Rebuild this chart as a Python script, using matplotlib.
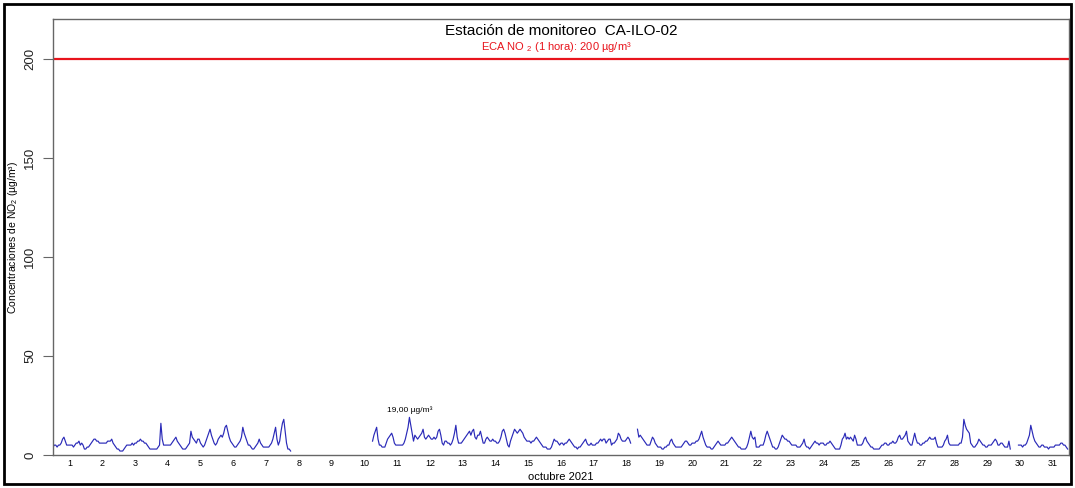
import numpy as np
import matplotlib
matplotlib.use("Agg")
import matplotlib.pyplot as plt
from matplotlib.patches import Rectangle

plt.rcParams["font.family"] = ["Liberation Sans", "DejaVu Sans"]
plt.rcParams["mathtext.fontset"] = "custom"
plt.rcParams["mathtext.rm"] = "Liberation Sans"
plt.rcParams["mathtext.it"] = "Liberation Sans:italic"

nan = np.nan

# hourly NO2 (ug/m3), 24 values per day, October 2021
day01 = [4, 5, 5, 4, 5, 5, 6, 8, 9, 7, 5, 5, 5, 5, 5, 4, 5, 6, 6, 7, 5, 6, 5, 3]
day02 = [3, 4, 4, 5, 6, 7, 8, 8, 7, 7, 6, 6, 6, 6, 6, 6, 7, 7, 7, 8, 6, 5, 4, 3]
day03 = [3, 2, 2, 2, 3, 4, 5, 5, 5, 5, 6, 5, 6, 6, 7, 7, 8, 7, 7, 6, 6, 5, 4, 3]
day04 = [3, 3, 3, 3, 3, 4, 5, 16, 8, 5, 5, 5, 5, 5, 5, 6, 7, 8, 9, 7, 6, 5, 4, 3]
day05 = [3, 3, 4, 5, 6, 12, 9, 8, 7, 6, 8, 8, 6, 5, 4, 5, 7, 9, 11, 13, 10, 8, 6, 5]
day06 = [6, 8, 9, 10, 9, 11, 14, 15, 12, 9, 7, 6, 5, 4, 4, 5, 6, 7, 9, 14, 11, 9, 7, 5]
day07 = [5, 4, 3, 3, 4, 5, 6, 8, 6, 5, 4, 4, 4, 4, 4, 5, 6, 8, 11, 14, 8, 5, 7, 12]
day08 = [16, 18, 12, 6, 3, 3, 2] + [nan] * 17
day09 = [nan] * 24
day10 = [nan] * 18 + [7, 10, 12, 14, 8, 5]
day11 = [5, 4, 4, 4, 6, 8, 9, 10, 11, 9, 6, 5, 5, 5, 5, 5, 5, 6, 8, 11, 14, 19, 15, 11]
day12 = [7, 10, 9, 8, 9, 10, 11, 13, 9, 8, 9, 10, 9, 8, 8, 9, 8, 9, 12, 13, 10, 6, 5, 7]
day13 = [7, 6, 6, 5, 6, 8, 11, 15, 9, 6, 6, 6, 7, 8, 9, 10, 11, 12, 10, 12, 13, 9, 8, 10]
day14 = [10, 12, 9, 6, 6, 8, 9, 8, 7, 7, 8, 7, 7, 6, 6, 7, 9, 12, 13, 11, 8, 5, 4, 7]
day15 = [9, 11, 13, 12, 11, 12, 13, 12, 11, 9, 8, 7, 7, 7, 6, 7, 7, 8, 9, 8, 7, 6, 5, 4]
day16 = [4, 4, 3, 3, 3, 4, 6, 8, 7, 7, 6, 5, 6, 6, 5, 6, 6, 7, 8, 7, 6, 5, 4, 4]
day17 = [3, 4, 4, 5, 6, 7, 8, 6, 5, 5, 6, 5, 5, 5, 6, 6, 7, 8, 7, 8, 8, 6, 7, 8]
day18 = [8, 5, 6, 6, 7, 8, 11, 10, 8, 7, 7, 7, 8, 9, 8, 6, nan, nan, nan, nan, 13, 9, 10, 9]
day19 = [8, 7, 6, 5, 5, 5, 7, 9, 8, 6, 5, 4, 4, 4, 3, 3, 4, 4, 5, 5, 7, 8, 6, 5]
day20 = [4, 4, 4, 4, 4, 5, 6, 7, 7, 6, 5, 5, 6, 6, 6, 7, 7, 8, 10, 12, 9, 7, 5, 4]
day21 = [4, 4, 3, 3, 4, 5, 6, 7, 6, 5, 5, 5, 5, 6, 6, 7, 8, 9, 8, 7, 6, 5, 4, 4]
day22 = [3, 3, 3, 3, 4, 6, 9, 12, 9, 8, 9, 4, 4, 4, 5, 5, 5, 7, 10, 12, 10, 8, 6, 4]
day23 = [4, 3, 3, 4, 6, 8, 10, 9, 8, 8, 7, 7, 6, 5, 5, 5, 5, 4, 4, 4, 5, 6, 8, 5]
day24 = [4, 4, 3, 4, 5, 6, 7, 6, 6, 5, 6, 6, 6, 5, 5, 6, 6, 7, 6, 5, 4, 3, 3, 3]
day25 = [3, 5, 8, 9, 11, 8, 9, 8, 9, 8, 7, 10, 8, 5, 5, 5, 5, 6, 8, 9, 7, 6, 5, 4]
day26 = [4, 3, 3, 3, 3, 3, 4, 5, 5, 6, 6, 5, 5, 6, 6, 7, 6, 6, 7, 9, 10, 8, 8, 9]
day27 = [10, 12, 7, 6, 5, 5, 8, 11, 8, 6, 6, 5, 5, 6, 6, 7, 7, 8, 9, 8, 8, 8, 9, 6]
day28 = [4, 4, 4, 4, 5, 7, 8, 10, 6, 5, 5, 5, 5, 5, 5, 5, 6, 6, 9, 18, 15, 13, 12, 11]
day29 = [6, 5, 4, 4, 5, 6, 8, 7, 6, 5, 5, 4, 4, 5, 5, 5, 6, 7, 8, 7, 5, 5, 6, 6]
day30 = [5, 4, 4, 4, 7, 3, nan, nan, nan, nan, nan, 5, 5, 5, 4, 5, 5, 6, 8, 10, 15, 12, 9, 7]
day31 = [6, 5, 4, 4, 5, 5, 4, 4, 4, 3, 4, 4, 4, 4, 5, 5, 5, 5, 6, 6, 5, 5, 4, 3]

days = [day01, day02, day03, day04, day05, day06, day07, day08, day09, day10,
        day11, day12, day13, day14, day15, day16, day17, day18, day19, day20,
        day21, day22, day23, day24, day25, day26, day27, day28, day29, day30,
        day31]
no2 = np.array(sum(days, []), dtype=float)
hours = np.arange(len(no2)) / 24.0

day_labels = [str(d) for d in range(1, 32)]
eca_limit = 200
max_label = "19,00 µg/m³"

fig = plt.figure(figsize=(10.75, 4.88), dpi=100)
ax = fig.add_axes([53 / 1075, 1 - 455 / 488, (1069 - 53) / 1075, (455 - 19) / 488])

ax.plot(hours, no2, color="#2a2ab8", lw=0.85)
ax.axhline(eca_limit, color="#e8141c", lw=1.6)

imax = np.nanargmax(no2)
ax.text(hours[imax], no2[imax] + 1.5, max_label, fontsize=6, ha="center", va="bottom")
ax.text(15.35, 205.8, "ECA NO $_2$ (1 hora): 200 µg/m³", color="#e8141c",
        fontsize=8, ha="center", va="center")
ax.text(15.5, 214, "Estación de monitoreo  CA-ILO-02", fontsize=11, ha="center",
        va="center")

ax.set_xlim(0, 31)
ax.set_ylim(0, 220)
ax.set_xticks(np.arange(31) + 0.5)
ax.set_xticklabels(day_labels, fontsize=6.5)
ax.tick_params(axis="x", length=0, pad=3)
ax.set_yticks([0, 50, 100, 150, 200])
ax.set_yticklabels(["0", "50", "100", "150", "200"], rotation=90, va="center",
                   fontsize=9.5, color="#222222")
ax.tick_params(axis="y", length=7, color="#666666", pad=5)
for s in ax.spines.values():
    s.set_color("#666666")
    s.set_linewidth(1.0)

ax.set_xlabel("octubre 2021", fontsize=8, labelpad=3)
ax.set_ylabel("Concentraciones de NO$_2$ (µg/m³)", fontsize=7.5)
ax.yaxis.set_label_coords(-0.0325, 0.5)

fig.patches.append(Rectangle((4 / 1075, 4 / 488), 1 - 8 / 1075, 1 - 8 / 488,
                             transform=fig.transFigure, fill=False,
                             edgecolor="black", lw=2))

fig.savefig("out.png", dpi=100)
